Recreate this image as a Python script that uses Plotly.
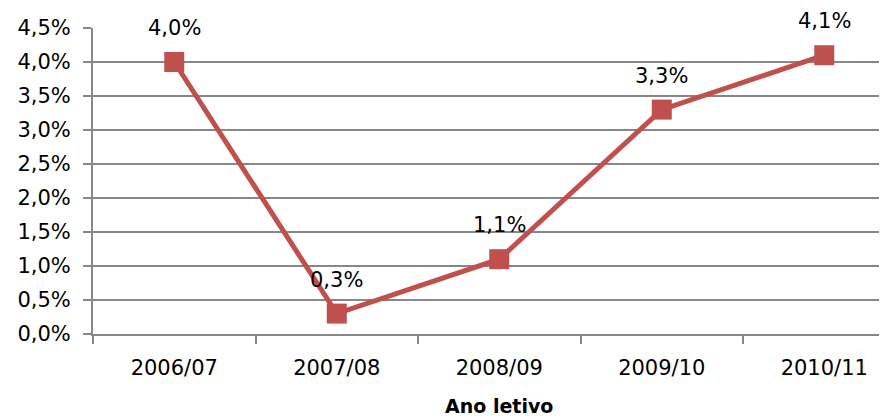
import plotly.graph_objects as go

categories = ["2006/07", "2007/08", "2008/09", "2009/10", "2010/11"]
values = [4.0, 0.3, 1.1, 3.3, 4.1]
labels = ["4,0%", "0,3%", "1,1%", "3,3%", "4,1%"]
ytick_vals = [0, 0.5, 1, 1.5, 2, 2.5, 3, 3.5, 4, 4.5]
ytick_text = ["0,0%", "0,5%", "1,0%", "1,5%", "2,0%", "2,5%", "3,0%", "3,5%", "4,0%", "4,5%"]
x_title = "Ano letivo"

FONT = "DejaVu Sans"
FS = 21
RED = "#C0504D"
GRID = "#878787"

fig = go.Figure()
fig.add_trace(go.Scatter(
    x=list(range(len(categories))), y=values, mode="lines+markers",
    line=dict(color=RED, width=5),
    marker=dict(symbol="square", size=20, color=RED),
    hoverinfo="skip",
))
for i, (v, t) in enumerate(zip(values, labels)):
    fig.add_annotation(x=i, y=v, text=t, showarrow=False, yshift=34,
                       font=dict(family=FONT, size=FS, color="black"))

# axis title centred on the full category band (middle category)
fig.add_annotation(x=(len(categories) - 1) / 2, xref="x", y=0, yref="paper",
                   yanchor="middle", yshift=-72, text="<b>" + x_title + "</b>",
                   showarrow=False, borderpad=0,
                   font=dict(family=FONT, size=19, color="black"))

fig.update_layout(
    width=879, height=411,
    margin=dict(l=85, r=0, t=20, b=85),
    plot_bgcolor="white", paper_bgcolor="white",
    showlegend=False,
    font=dict(family=FONT, size=FS, color="black"),
)
fig.update_xaxes(
    range=[-0.5, 4.386],
    tickmode="array", tickvals=list(range(len(categories))), ticktext=categories,
    ticks="", showgrid=False, zeroline=False,
    showline=True, linecolor=GRID, linewidth=2,
    tickfont=dict(family=FONT, size=FS), ticklabelstandoff=14,
)
fig.update_xaxes(minor=dict(tickmode="array", tickvals=[-0.5, 0.5, 1.5, 2.5, 3.5],
                            ticks="outside", ticklen=8, tickcolor=GRID, tickwidth=2, showgrid=False))
fig.update_yaxes(
    range=[0, 4.5], tickmode="array", tickvals=ytick_vals, ticktext=ytick_text,
    ticks="outside", ticklen=8, tickcolor=GRID, tickwidth=2,
    showgrid=True, gridcolor=GRID, gridwidth=2, zeroline=False,
    showline=True, linecolor=GRID, linewidth=2,
    tickfont=dict(family=FONT, size=FS), ticklabelstandoff=8,
)
fig.write_html("out.html")
